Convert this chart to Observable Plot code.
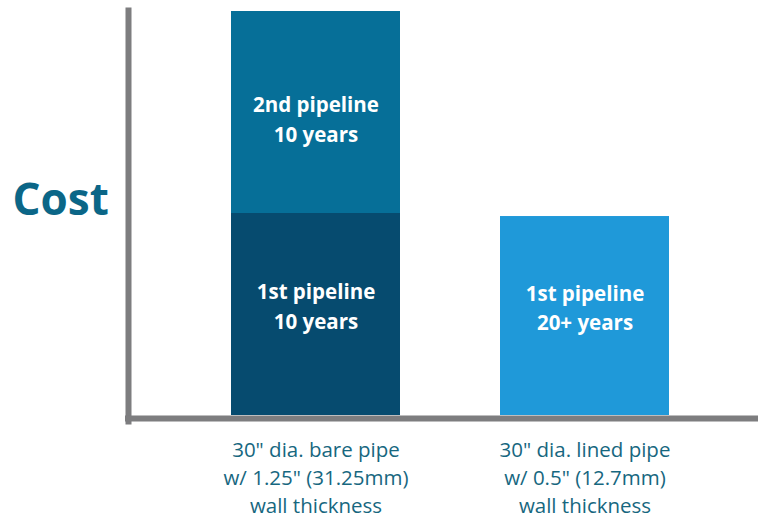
<!DOCTYPE html>
<html>
<head>
<meta charset="utf-8">
<script src="https://cdn.jsdelivr.net/npm/d3@7"></script>
<script src="https://cdn.jsdelivr.net/npm/@observablehq/plot@0.6"></script>
<style>
  html, body { margin: 0; padding: 0; background: #fff; }
  #chart svg { display: block; }
</style>
</head>
<body>
<div id="chart"></div>
<script>
// Categories (x axis) and their tick labels
const categories = ["bare", "lined"];
const tickLabels = [
  '30" dia. bare pipe\nw/ 1.25" (31.25mm)\nwall thickness',
  '30" dia. lined pipe\nw/ 0.5" (12.7mm)\nwall thickness'
];

// Stacked segments (bottom to top within each category)
const segmentKeys = ["bare-1st", "bare-2nd", "lined-1st"];
const segmentCategory = ["bare", "bare", "lined"];
const segmentCost = [10, 10, 9.85];
const segmentLabels = ["1st pipeline\n10 years", "2nd pipeline\n10 years", "1st pipeline\n20+ years"];
const segmentPosition = ["lower", "upper", "lower"];
const segmentColors = ["#064b6f", "#066f98", "#1f99d9"];

const yLabel = "Cost";

const data = segmentKeys.map((k, i) => ({
  key: k,
  category: segmentCategory[i],
  cost: segmentCost[i],
  label: segmentLabels[i],
  pos: segmentPosition[i]
}));

const tickMap = new Map(categories.map((c, i) => [c, tickLabels[i]]));

const chart = Plot.plot({
  width: 765,
  height: 521,
  marginLeft: 131,
  marginRight: 7,
  marginTop: 11,
  marginBottom: 106,
  style: { fontFamily: "'Open Sans', sans-serif", background: "#fff" },
  x: { domain: categories, paddingInner: 0.37, paddingOuter: 0.348, align: 0.532 },
  y: { domain: [0, 20] },
  color: { domain: segmentKeys, range: segmentColors },
  marks: [
    Plot.barY(data, Plot.stackY({ x: "category", y: "cost", fill: "key", order: null })),
    Plot.text(data, Plot.stackY({
      x: "category", y: "cost", z: "key", order: null,
      text: d => d.pos === "upper" ? d.label : null,
      fill: "white", fontWeight: "bold", fontSize: 20.5, lineHeight: 1.45, dy: 5
    })),
    Plot.text(data, Plot.stackY({
      x: "category", y: "cost", z: "key", order: null,
      text: d => d.pos === "lower" ? d.label : null,
      fill: "white", fontWeight: "bold", fontSize: 20.5, lineHeight: 1.45, dy: -10
    })),
    Plot.frame({ anchor: "left", stroke: "#7d7d7f", strokeWidth: 6, dx: -3, insetBottom: -6, insetTop: -1 }),
    Plot.ruleY([0], { stroke: "#7d7d7f", strokeWidth: 6, dy: 3, insetLeft: -6 }),
    Plot.axisX({
      tickSize: 0, tickPadding: 22, label: null,
      tickFormat: c => tickMap.get(c),
      fontSize: 20.5, lineHeight: 1.36, fill: "#17677f"
    }),
    Plot.axisY({ ticks: [], label: null }),
    Plot.text([yLabel], {
      frameAnchor: "left", textAnchor: "start", dx: -119, dy: -13,
      fontSize: 44, fontWeight: "bold", fill: "#0b6687"
    })
  ]
});

document.getElementById("chart").append(chart);
</script>
</body>
</html>
